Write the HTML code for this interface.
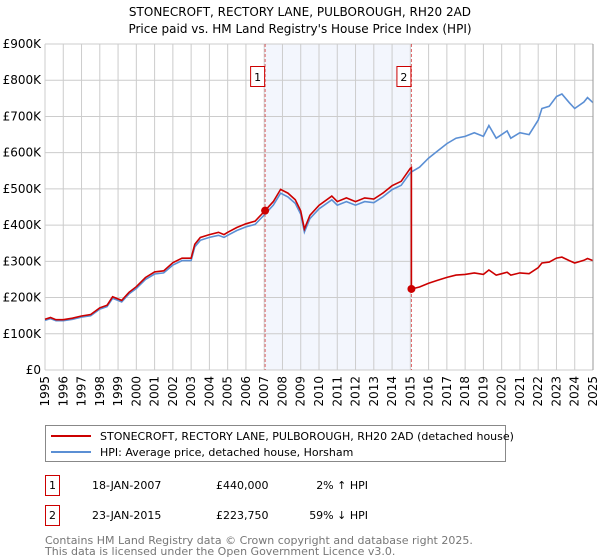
<!DOCTYPE html>
<html><head><meta charset="utf-8"><style>
body{margin:0;background:#fff;font-family:"DejaVu Sans","Liberation Sans",sans-serif;}
svg{display:block}
</style></head><body>
<svg id="chart" width="600" height="560" xmlns="http://www.w3.org/2000/svg" font-family="DejaVu Sans, Liberation Sans, sans-serif">
<text x="300" y="16" text-anchor="middle" font-size="12">STONECROFT, RECTORY LANE, PULBOROUGH, RH20 2AD</text>
<text x="300" y="33" text-anchor="middle" font-size="12">Price paid vs. HM Land Registry's House Price Index (HPI)</text>
<g id="plot"></g>
<g>
<rect x="45.5" y="425.5" width="460" height="36" fill="#fff" stroke="#888"/>
<line x1="51" y1="436" x2="91" y2="436" stroke="#cc0000" stroke-width="2"/>
<text x="100" y="440" font-size="11">STONECROFT, RECTORY LANE, PULBOROUGH, RH20 2AD (detached house)</text>
<line x1="51" y1="452" x2="91" y2="452" stroke="#5b8fd4" stroke-width="2"/>
<text x="100" y="456" font-size="11">HPI: Average price, detached house, Horsham</text>
</g>
<g font-size="11">
<rect x="45.5" y="475.5" width="14" height="20" fill="#fff" stroke="#cc0000"/>
<text x="52.5" y="489" text-anchor="middle">1</text>
<text x="92" y="489">18-JAN-2007</text>
<text x="216" y="489">£440,000</text>
<text x="368" y="489" text-anchor="end">2% ↑ HPI</text>
<rect x="45.5" y="505.5" width="14" height="20" fill="#fff" stroke="#cc0000"/>
<text x="52.5" y="519" text-anchor="middle">2</text>
<text x="92" y="519">23-JAN-2015</text>
<text x="216" y="519">£223,750</text>
<text x="368" y="519" text-anchor="end">59% ↓ HPI</text>
</g>
<text x="45" y="544" font-size="11" fill="#777">Contains HM Land Registry data © Crown copyright and database right 2025.</text>
<text x="45" y="555" font-size="11" fill="#777">This data is licensed under the Open Government Licence v3.0.</text>
</svg>
<script>
const years=[1995,1996,1997,1998,1999,2000,2001,2002,2003,2004,2005,2006,2007,2008,2009,2010,2011,2012,2013,2014,2015,2016,2017,2018,2019,2020,2021,2022,2023,2024,2025];
const yTicks=[0,100000,200000,300000,400000,500000,600000,700000,800000,900000];
const yTickLabels=["£0","£100K","£200K","£300K","£400K","£500K","£600K","£700K","£800K","£900K"];
const hpiDates=[1995.0,1995.3,1995.6,1996.0,1996.5,1997.0,1997.5,1998.0,1998.4,1998.7,1999.2,1999.6,2000.0,2000.5,2001.0,2001.5,2002.0,2002.5,2003.0,2003.2,2003.5,2004.0,2004.5,2004.8,2005.0,2005.5,2006.0,2006.5,2007.0,2007.5,2007.9,2008.3,2008.7,2009.0,2009.2,2009.5,2010.0,2010.7,2011.0,2011.5,2012.0,2012.5,2013.0,2013.5,2014.0,2014.5,2015.0,2015.5,2016.0,2016.5,2017.0,2017.5,2018.0,2018.5,2019.0,2019.3,2019.7,2020.0,2020.3,2020.5,2021.0,2021.5,2022.0,2022.2,2022.6,2023.0,2023.3,2023.7,2024.0,2024.5,2024.7,2025.0];
const hpiValues=[137000,142000,136000,136000,140000,146000,150000,168000,175000,198000,188000,210000,225000,250000,265000,268000,290000,302000,302000,340000,358000,366000,372000,366000,372000,385000,395000,402000,428000,455000,488000,478000,460000,430000,381000,418000,445000,470000,455000,465000,455000,465000,462000,478000,498000,510000,545000,560000,585000,605000,625000,640000,645000,655000,645000,675000,640000,650000,660000,640000,655000,650000,690000,722000,728000,755000,762000,738000,722000,740000,752000,738000];
const saleDates=[2007.05,2015.06];
const salePrices=[440000,223750];
const saleLabels=["1","2"];
const NS="http://www.w3.org/2000/svg";
const X0=45,X1=593,Y0=370,Y1=44;
const xs=t=>X0+(t-1995)/(2025-1995)*(X1-X0);
const ys=v=>Y0-v/900000*(Y0-Y1);
const plot=document.getElementById('plot');
function mk(tag,attrs,parent){const e=document.createElementNS(NS,tag);for(const k in attrs)e.setAttribute(k,attrs[k]);(parent||plot).appendChild(e);return e;}
function hpiAt(t){for(let i=1;i<hpiDates.length;i++){if(t<=hpiDates[i]){const f=(t-hpiDates[i-1])/(hpiDates[i]-hpiDates[i-1]);return hpiValues[i-1]+f*(hpiValues[i]-hpiValues[i-1]);}}return hpiValues[hpiValues.length-1];}
const shade=mk('rect',{x:xs(saleDates[0]),y:Y1,width:xs(saleDates[1])-xs(saleDates[0]),height:Y0-Y1,fill:'#f3f6fd'});


yTicks.forEach((v,i)=>{
  const g=mk('line',{x1:X0,x2:X1,y1:ys(v),y2:ys(v),stroke:'#cccccc','stroke-width':1});
  
  
  const t=mk('text',{x:X0-4,y:ys(v)+4,'text-anchor':'end','font-size':12});
  t.textContent=yTickLabels[i];
  
  
});
years.forEach(yr=>{
  const g=mk('line',{x1:xs(yr),x2:xs(yr),y1:Y1,y2:Y0,stroke:'#cccccc','stroke-width':1});
  
  
  const t=mk('text',{x:0,y:0,'text-anchor':'end','font-size':12,transform:`translate(${xs(yr)+4},${Y0+6}) rotate(-90)`});
  t.textContent=yr;
  
  
});
saleDates.forEach((d,i)=>{
  const l=mk('line',{x1:xs(d),x2:xs(d),y1:Y1,y2:Y0,stroke:'#cc0000','stroke-width':1,'stroke-dasharray':'3,2',opacity:0.6});
  
  
  const r=mk('rect',{x:xs(d)-14.5,y:66.5,width:14,height:20,fill:'#fff',stroke:'#cc0000'});
  
  
  const t=mk('text',{x:xs(d)-7.5,y:81,'text-anchor':'middle','font-size':11});
  t.textContent=saleLabels[i];
  
  
});
const hp=hpiDates.map((d,i)=>`${xs(d).toFixed(1)},${ys(hpiValues[i]).toFixed(1)}`).join(' ');
const hl=mk('polyline',{points:hp,fill:'none',stroke:'#5b8fd4','stroke-width':1.6});


const pts=[];
const r0=salePrices[0]/hpiAt(saleDates[0]);
const r1=salePrices[1]/hpiAt(saleDates[1]);
hpiDates.forEach((d,i)=>{if(d<saleDates[1])pts.push([d,hpiValues[i]*r0]);});
pts.push([saleDates[1],hpiAt(saleDates[1])*r0]);
pts.push([saleDates[1],salePrices[1]]);
hpiDates.forEach((d,i)=>{if(d>saleDates[1])pts.push([d,hpiValues[i]*r1]);});
const pl=mk('polyline',{points:pts.map(p=>`${xs(p[0]).toFixed(1)},${ys(p[1]).toFixed(1)}`).join(' '),fill:'none',stroke:'#cc0000','stroke-width':1.6});


saleDates.forEach((d,i)=>{
  const c=mk('circle',{cx:xs(d),cy:ys(salePrices[i]),r:4,fill:'#cc0000'});
  
  
});
const ax=mk('line',{x1:X1,x2:X1,y1:Y1,y2:Y0,stroke:'#999','stroke-width':1});


</script>
</body></html>
